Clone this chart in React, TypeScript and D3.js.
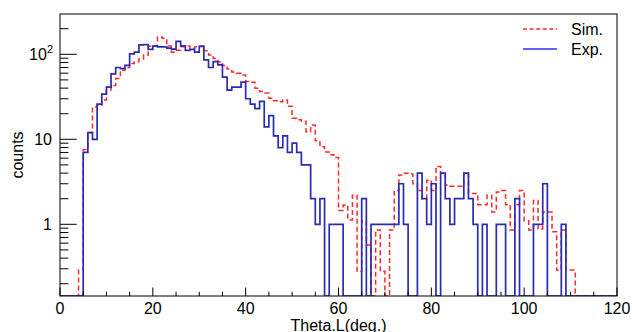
import React from "react";
import * as d3 from "d3";

// ---- data (1-degree bins from 0 to 120) ----
const binEdges = d3.range(0, 121, 1);
const expCounts = [
  0, 0, 0, 0, 0, 7, 12, 10, 26, 34,
  41, 59, 70, 68, 74, 101, 106, 129, 130, 114,
  125, 122, 122, 118, 115, 142, 126, 111, 114, 106,
  124, 86, 70, 82, 75, 54, 38, 41, 41, 47,
  30, 26, 23, 28, 14, 19, 11, 8, 11, 7,
  9, 7, 5, 5, 2, 1, 2, 0, 1, 1,
  1, 0, 0, 0, 0, 2, 0, 1, 1, 1,
  1, 1, 1, 3, 1, 0, 0, 4, 2, 1,
  3, 0, 4, 2, 1, 2, 2, 4, 2, 1,
  0, 1, 0, 0, 1, 1, 0, 0, 2, 0,
  0, 0, 1, 1, 3, 0, 0, 0, 1, 0,
  0, 0, 0, 0, 0, 0, 0, 0, 0, 0,
];
const simCounts = [
  0, 0, 0, 0, 0.29, 7.6, 12, 24, 25, 29,
  38, 43, 52, 65, 70, 78, 82, 88, 98, 124,
  126, 160, 154, 125, 106, 112, 123, 125, 118, 123,
  125, 110, 98, 89, 82, 74, 67, 62, 60, 57,
  48, 47, 40, 36.5, 35, 30.5, 28.5, 27.7, 29, 24.5,
  17.7, 17, 16.3, 12.3, 14.7, 9.6, 8.2, 7.1, 6.6, 6.1,
  1.45, 1.69, 1.12, 2.2, 0.28, 1.1, 0.57, 0, 0.86, 0.28,
  0, 0.86, 2.5, 3.8, 4.0, 3.9, 3.0, 2.5, 2.0, 3.3,
  2.5, 4.8, 4.0, 2.9, 2.8, 2.8, 2.8, 4.0, 2.3, 2.3,
  1.7, 1.7, 2.2, 1.4, 2.4, 2.5, 1.7, 0.86, 1.7, 2.5,
  1.1, 0.86, 1.9, 0.88, 1.4, 1.4, 0.82, 0.29, 0.86, 0.29,
  0.29, 0, 0, 0, 0, 0, 0, 0, 0, 0,
];
const xTickValues = d3.range(0, 121, 5);
const xLabelValues = [0, 20, 40, 60, 80, 100, 120];
const yMajorValues = [1, 10, 100];
const yMinorValues = [0.2, 0.3, 0.4, 0.5, 0.6, 0.7, 0.8, 0.9, 2, 3, 4, 5, 6, 7, 8, 9, 20, 30, 40, 50, 60, 70, 80, 90, 200];
const legendLabels = ["Sim.", "Exp."];
const xTitle = "Theta.L(deg.)";
const yTitle = "counts";

const W = 632;
const H = 332;
const L = 60, R = 617, T = 14, B = 296;
const YMIN = 0.1434, YMAX = 298;
const FONT = "'Liberation Sans', Arial, Helvetica, sans-serif";

export default function App() {
  const x = d3.scaleLinear().domain([0, 120]).range([L, R]);
  const y = d3.scaleLog().domain([YMIN, YMAX]).range([B, T]);
  const yv = (v: number) => (v > YMIN ? y(v) : B);

  const makePath = (vals: number[]) => {
    const pts: [number, number][] = vals.map((v, i) => [binEdges[i], v]);
    pts.push([binEdges[vals.length], vals[vals.length - 1]]);
    return d3
      .line<[number, number]>()
      .x((d) => x(d[0]))
      .y((d) => yv(d[1]))
      .curve(d3.curveStepAfter)(pts) as string;
  };

  const xMajLen = 8.5, xMinLen = 4.2, yMajLen = 16.7, yMinLen = 8.4;

  return (
    <svg
      width={W}
      height={H}
      style={{ position: "absolute", left: 0, top: 0, background: "#fff" }}
      fontFamily={FONT}
    >
      <rect x={0} y={0} width={W} height={H} fill="#fff" />
      <defs>
        <clipPath id="frame">
          <rect x={L} y={T} width={R - L} height={B - T} />
        </clipPath>
      </defs>
      <g clipPath="url(#frame)">
        <path d={makePath(simCounts)} fill="none" stroke="#ff2a2a" strokeWidth={1.5} strokeDasharray="5,3" />
        <path d={makePath(expCounts)} fill="none" stroke="#2c2cb0" strokeWidth={1.7} />
      </g>
      {/* frame */}
      <rect x={L} y={T} width={R - L} height={B - T} fill="none" stroke="#000" strokeWidth={1} />
      {/* x ticks */}
      {xTickValues.map((t) => (
        <line
          key={"xt" + t}
          x1={x(t)}
          x2={x(t)}
          y1={B}
          y2={B - (t % 20 === 0 ? xMajLen : xMinLen)}
          stroke="#000"
          strokeWidth={1}
        />
      ))}
      {xLabelValues.map((t) => (
        <text key={"xl" + t} x={x(t)} y={313.5} fontSize={16} textAnchor="middle" fill="#000">
          {t}
        </text>
      ))}
      {/* y ticks */}
      {yMajorValues.map((t) => (
        <line key={"ym" + t} x1={L} x2={L + yMajLen} y1={y(t)} y2={y(t)} stroke="#000" strokeWidth={1} />
      ))}
      {yMinorValues.map((t) => (
        <line key={"yn" + t} x1={L} x2={L + yMinLen} y1={y(t)} y2={y(t)} stroke="#000" strokeWidth={1} />
      ))}
      <text x={52} y={y(1) + 5.8} fontSize={16} textAnchor="end" fill="#000">1</text>
      <text x={52} y={y(10) + 5.8} fontSize={16} textAnchor="end" fill="#000">10</text>
      <text x={53} y={y(100) + 5.8} fontSize={16} textAnchor="end" fill="#000">
        10<tspan fontSize={11} dy={-7}>2</tspan>
      </text>
      {/* titles */}
      <text x={(L + R) / 2} y={330.5} fontSize={16} textAnchor="middle" fill="#000">
        {xTitle}
      </text>
      <text transform={`translate(22.7,${(T + B) / 2}) rotate(-90)`} fontSize={16} textAnchor="middle" fill="#000">
        {yTitle}
      </text>
      {/* legend */}
      <line x1={523} x2={557} y1={29} y2={29} stroke="#ff2a2a" strokeWidth={1.3} strokeDasharray="4,2.6" />
      <text x={571} y={34.8} fontSize={16} fill="#000">{legendLabels[0]}</text>
      <line x1={523} x2={557} y1={49} y2={49} stroke="#2c2cff" strokeWidth={1.3} />
      <text x={571} y={54.8} fontSize={16} fill="#000">{legendLabels[1]}</text>
    </svg>
  );
}
